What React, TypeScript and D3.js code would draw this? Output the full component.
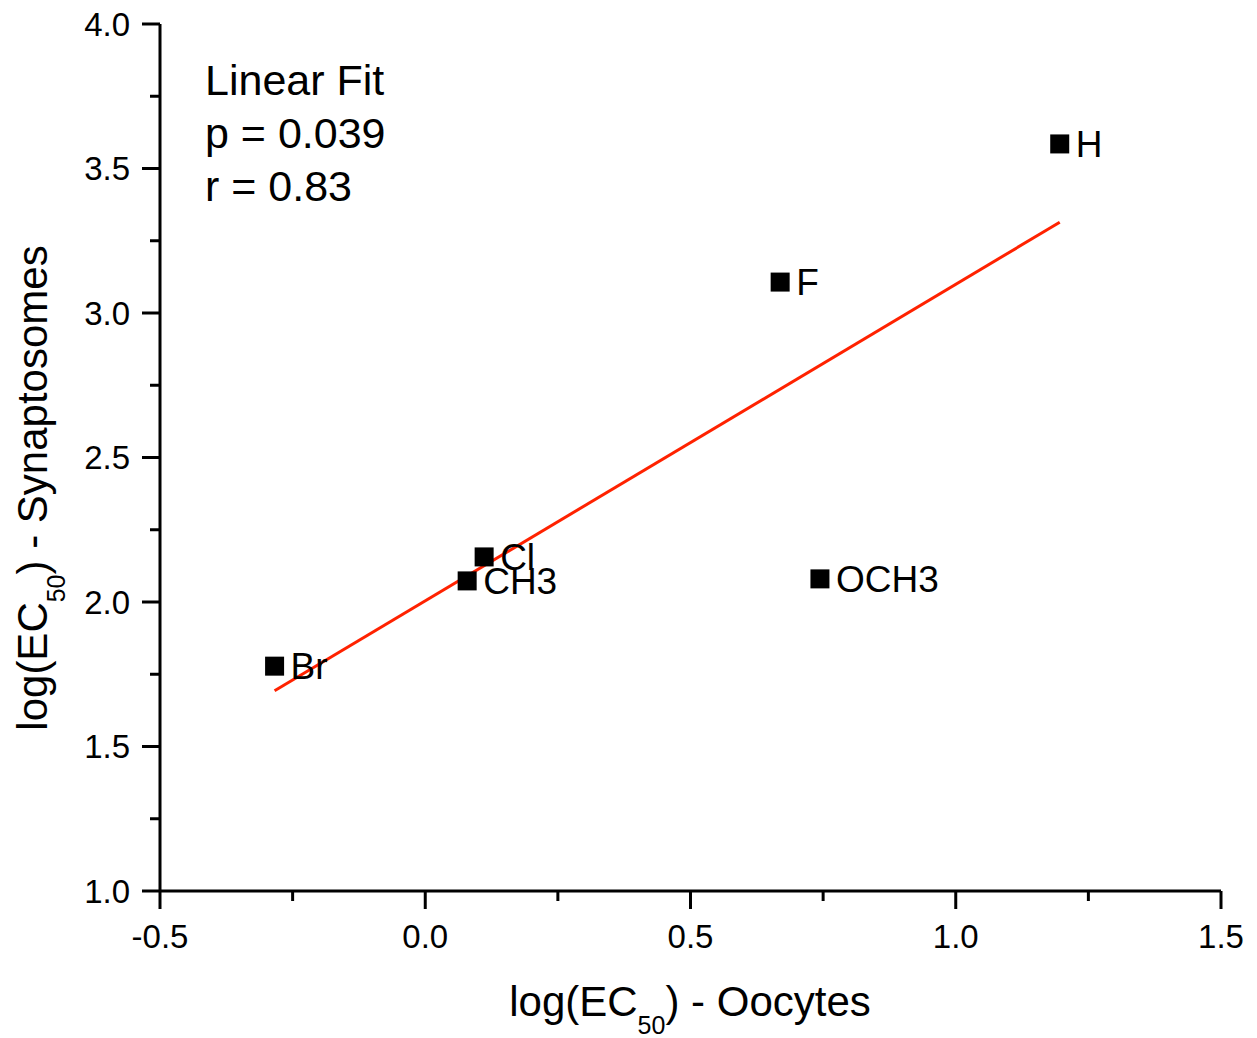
import React from "react";
import * as d3 from "d3";

const labels = ["Br", "Cl", "CH3", "F", "H", "OCH3"];
const oocytes = [-0.284, 0.111, 0.079, 0.669, 1.196, 0.744];
const synaptosomes = [1.778, 2.156, 2.073, 3.107, 3.585, 2.08];
const fitX = [-0.284, 1.196];
const fitY = [1.693, 3.314];
const xTicks = [-0.5, 0.0, 0.5, 1.0, 1.5];
const yTicks = [1.0, 1.5, 2.0, 2.5, 3.0, 3.5, 4.0];
const statsLines = ["Linear Fit", "p = 0.039", "r = 0.83"];

const W = 1257;
const H = 1038;
const FONT = "'Liberation Sans', Arial, sans-serif";
const fmt = (v: number) => v.toFixed(1);

export default function App() {
  const x = d3.scaleLinear().domain([-0.5, 1.5]).range([160, 1221]);
  const y = d3.scaleLinear().domain([1, 4]).range([891, 24]);
  const xMinor = d3.range(-0.25, 1.5, 0.5);
  const yMinor = d3.range(1.25, 4, 0.5);
  const line = d3
    .line<number>()
    .x((_, i) => x(fitX[i]))
    .y((d) => y(d));
  const sq = 19;

  return (
    <svg
      width={W}
      height={H}
      style={{ position: "absolute", left: 0, top: 0, background: "#fff" }}
      fontFamily={FONT}
    >
      <rect width={W} height={H} fill="#fff" />
      {/* axes */}
      <g stroke="#000" strokeWidth={3} fill="none">
        <line x1={x(-0.5)} x2={x(1.5)} y1={y(1)} y2={y(1)} />
        <line x1={x(-0.5)} x2={x(-0.5)} y1={y(1)} y2={y(4)} />
        {xTicks.map((t) => (
          <line key={"xt" + t} x1={x(t)} x2={x(t)} y1={y(1)} y2={y(1) + 18} />
        ))}
        {xMinor.map((t) => (
          <line key={"xm" + t} x1={x(t)} x2={x(t)} y1={y(1)} y2={y(1) + 10} />
        ))}
        {yTicks.map((t) => (
          <line key={"yt" + t} x1={x(-0.5) - 18} x2={x(-0.5)} y1={y(t)} y2={y(t)} />
        ))}
        {yMinor.map((t) => (
          <line key={"ym" + t} x1={x(-0.5) - 10} x2={x(-0.5)} y1={y(t)} y2={y(t)} />
        ))}
      </g>
      {/* tick labels */}
      <g fontSize={33} fill="#000">
        {xTicks.map((t) => (
          <text key={"xl" + t} x={x(t)} y={y(1) + 57} textAnchor="middle">
            {fmt(t)}
          </text>
        ))}
        {yTicks.map((t) => (
          <text key={"yl" + t} x={130} y={y(t)} dy="0.36em" textAnchor="end">
            {fmt(t)}
          </text>
        ))}
      </g>
      {/* fit line */}
      <path d={line(fitY) || ""} stroke="#ff2200" strokeWidth={3} fill="none" />
      {/* points */}
      {labels.map((l, i) => (
        <g key={l}>
          <rect
            x={x(oocytes[i]) - sq / 2}
            y={y(synaptosomes[i]) - sq / 2}
            width={sq}
            height={sq}
            fill="#000"
          />
          <text
            x={x(oocytes[i]) + 16}
            y={y(synaptosomes[i])}
            dy="0.36em"
            fontSize={37}
            fill="#000"
          >
            {l}
          </text>
        </g>
      ))}
      {/* stats */}
      {statsLines.map((s, i) => (
        <text key={s} x={205} y={95 + i * 53} fontSize={43} fill="#000">
          {s}
        </text>
      ))}
      {/* x title */}
      <text x={690} y={1016} textAnchor="middle" fontSize={42} fill="#000">
        log(EC
        <tspan fontSize={25} dy={18}>50</tspan>
        <tspan dy={-18}>) - Oocytes</tspan>
      </text>
      {/* y title */}
      <text
        transform={`translate(47, 488) rotate(-90)`}
        textAnchor="middle"
        fontSize={42}
        fill="#000"
      >
        log(EC
        <tspan fontSize={25} dy={18}>50</tspan>
        <tspan dy={-18}>) - Synaptosomes</tspan>
      </text>
    </svg>
  );
}
